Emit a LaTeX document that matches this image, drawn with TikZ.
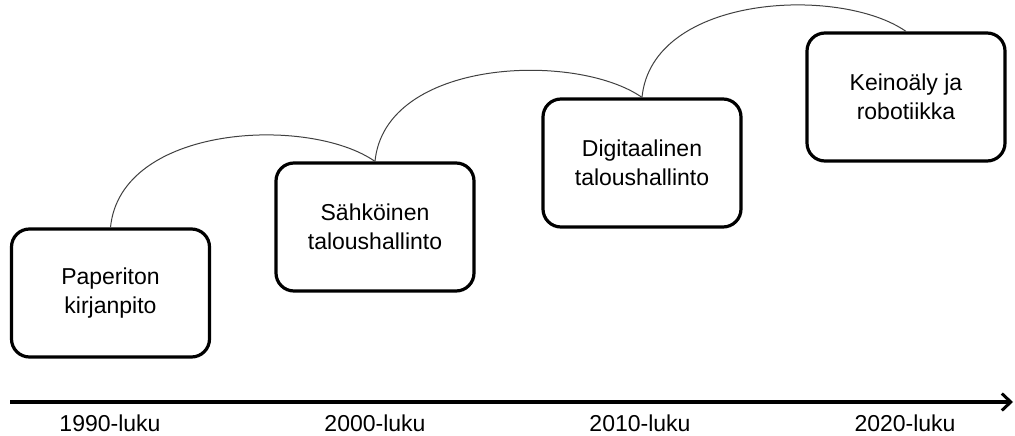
\documentclass[tikz,border=0pt]{standalone}
\usepackage{fontspec}
\setmainfont{Liberation Sans}
\usetikzlibrary{arrows.meta}
\tikzset{
  stagebox/.style={draw=black, line width=3.2pt, rounded corners=18pt, minimum width=198pt, minimum height=128pt, inner sep=0pt, align=center, font=\fontsize{23}{28.5}\selectfont, fill=white},
  linkcurve/.style={draw=black!75, line width=1pt},
  timeaxis/.style={line width=3.5pt, -{Straight Barb[length=9pt,width=17pt,line width=3pt]}},
  decade/.style={anchor=base, font=\fontsize{23}{26}\selectfont, inner sep=0pt}
}
\begin{document}
\begin{tikzpicture}[x=1pt, y=-1pt]
\useasboundingbox (0,0) rectangle (1015,436);
\node[stagebox] (b1) at (110.5,293) {Paperiton\\kirjanpito};
\node[stagebox] (b2) at (375,227) {Sähköinen\\taloushallinto};
\node[stagebox] (b3) at (642,163) {Digitaalinen\\taloushallinto};
\node[stagebox] (b4) at (906,97) {Keinoäly ja\\robotiikka};
\draw[linkcurve] (b1.north) .. controls +(10,-103) and +(-66,-46) .. (b2.north);
\draw[linkcurve] (b2.north) .. controls +(10,-103) and +(-66,-46) .. (b3.north);
\draw[linkcurve] (b3.north) .. controls +(10,-103) and +(-66,-46) .. (b4.north);
\coordinate (axstart) at (10,402);
\coordinate (axend) at (1013,402);
\draw[timeaxis] (axstart) -- (axend);
\node[decade] (d1) at (110,431) {1990-luku};
\node[decade] (d2) at (375,431) {2000-luku};
\node[decade] (d3) at (640,431) {2010-luku};
\node[decade] (d4) at (905,431) {2020-luku};
\end{tikzpicture}
\end{document}
